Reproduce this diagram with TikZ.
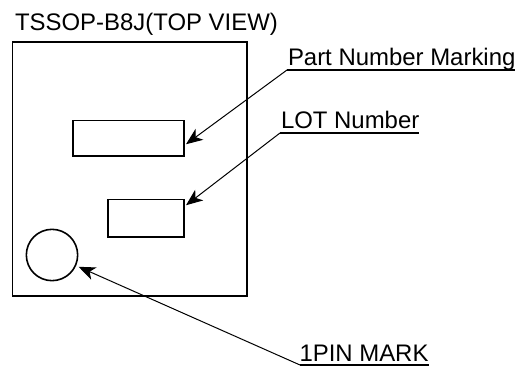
\documentclass[tikz,border=0pt]{standalone}
\usepackage{fontspec}
\setmainfont{Liberation Sans}
\usetikzlibrary{arrows.meta}
\tikzset{
    pkgbox/.style={draw=black, line width=1.3pt, inner sep=0pt, outer sep=0pt},
    markbox/.style={draw=black, line width=1.2pt, inner sep=0pt, outer sep=0pt},
    lbl/.style={inner sep=0pt, outer sep=0pt, anchor=base west, font=\fontsize{17.95}{20}\selectfont},
    leader/.style={draw=black, line width=0.75pt, -{Stealth[length=12.5pt, width=10pt, inset=3.5pt]}},
    uline/.style={draw=black, line width=1.3pt}
}
\begin{document}
\begin{tikzpicture}[x=0.75pt, y=-0.75pt]
    \useasboundingbox (0,0) rectangle (524,370);

    \node[lbl] (title) at (15,31) {TSSOP-B8J(TOP VIEW)};

    \node[pkgbox, minimum width=176pt, minimum height=190.5pt] (pkg) at (129.75,168.75) {};
    \node[markbox, minimum width=83.25pt, minimum height=26.6pt] (partbox) at (128.5,138.25) {};
    \node[markbox, minimum width=57pt, minimum height=28pt] (lotbox) at (146,218.25) {};
    \node[markbox, circle, minimum size=38.5pt] (pinmark) at (52,255) {};

    \node[lbl] (partlbl) at (288,65.7) {Part Number Marking};
    \node[lbl] (lotlbl) at (281,129) {LOT Number};
    \node[lbl] (pinlbl) at (299.5,361) {1PIN MARK};

    \coordinate (parttail) at (287,70);
    \coordinate (lottail) at (280,133);
    \coordinate (pintail) at (300,365);

    \draw[uline] (parttail) -- (parttail -| partlbl.east);
    \draw[uline] (lottail) -- (lottail -| lotlbl.east);
    \draw[uline] (pintail) -- (pintail -| pinlbl.east);

    \draw[leader] (parttail) -- ([xshift=1.5pt,yshift=-4.5pt]partbox.east);
    \draw[leader] (lottail) -- ([xshift=1.5pt,yshift=9.75pt]lotbox.east);
    \draw[leader, shorten >=2.6pt] (pintail) -- (pinmark);
\end{tikzpicture}
\end{document}
